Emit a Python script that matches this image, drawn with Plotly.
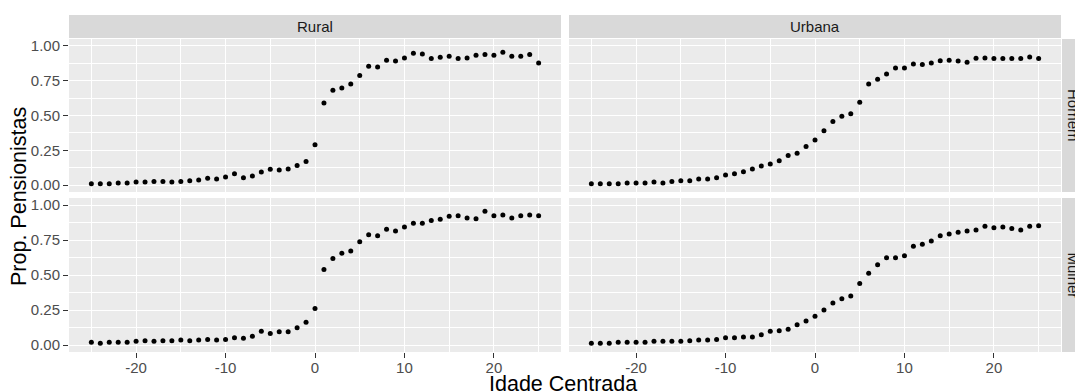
import plotly.graph_objects as go

idade = list(range(-25, 26))

rural_homem = [0.010, 0.010, 0.010, 0.014, 0.014, 0.022, 0.022, 0.026, 0.026, 0.022,
               0.026, 0.031, 0.036, 0.048, 0.043, 0.058, 0.082, 0.053, 0.065, 0.094,
               0.113, 0.108, 0.115, 0.141, 0.170, 0.290, 0.590, 0.681, 0.698, 0.727,
               0.787, 0.854, 0.849, 0.897, 0.892, 0.914, 0.947, 0.942, 0.909, 0.918,
               0.926, 0.909, 0.914, 0.933, 0.938, 0.933, 0.954, 0.926, 0.926, 0.938,
               0.878]

urbana_homem = [0.010, 0.010, 0.010, 0.010, 0.014, 0.014, 0.014, 0.022, 0.014, 0.026,
                0.031, 0.031, 0.043, 0.043, 0.053, 0.072, 0.082, 0.096, 0.115, 0.137,
                0.151, 0.175, 0.213, 0.228, 0.278, 0.324, 0.391, 0.456, 0.494, 0.513,
                0.595, 0.727, 0.760, 0.799, 0.842, 0.842, 0.871, 0.866, 0.878, 0.894,
                0.897, 0.892, 0.882, 0.911, 0.914, 0.909, 0.909, 0.909, 0.909, 0.921,
                0.909]

rural_mulher = [0.019, 0.012, 0.019, 0.019, 0.019, 0.026, 0.031, 0.026, 0.031, 0.031,
                0.036, 0.031, 0.036, 0.040, 0.036, 0.040, 0.052, 0.048, 0.062, 0.098,
                0.083, 0.095, 0.095, 0.124, 0.162, 0.260, 0.540, 0.617, 0.655, 0.671,
                0.738, 0.788, 0.781, 0.826, 0.814, 0.843, 0.869, 0.869, 0.890, 0.898,
                0.919, 0.924, 0.907, 0.902, 0.955, 0.924, 0.929, 0.907, 0.924, 0.929,
                0.924]

urbana_mulher = [0.012, 0.012, 0.012, 0.019, 0.019, 0.019, 0.019, 0.026, 0.026, 0.026,
                 0.026, 0.031, 0.036, 0.036, 0.040, 0.052, 0.052, 0.057, 0.057, 0.074,
                 0.098, 0.102, 0.112, 0.145, 0.171, 0.205, 0.250, 0.300, 0.331, 0.350,
                 0.440, 0.512, 0.574, 0.624, 0.624, 0.638, 0.705, 0.719, 0.743, 0.781,
                 0.793, 0.805, 0.814, 0.821, 0.848, 0.838, 0.843, 0.833, 0.821, 0.848,
                 0.852]

col_labels = ["Rural", "Urbana"]
row_labels = ["Homem", "Mulher"]
x_ticks = [-20, -10, 0, 10, 20]
y_ticks = [0.0, 0.25, 0.5, 0.75, 1.0]
y_ticktext = ["0.00", "0.25", "0.50", "0.75", "1.00"]

W, H = 1075, 392
ML, MR, MT, MB = 69, 14, 15, 40
PW = W - ML - MR
PH = H - MT - MB

def px_x(p):
    return (p - ML) / PW

def px_y(p):
    return (H - MB - p) / PH

x_dom = [[0, px_x(561)], [px_x(569), 1]]
y_dom = [[px_y(192), px_y(39)], [0, px_y(198)]]

FONT = "Liberation Sans, Arial, sans-serif"
fig = go.Figure()

panels = [
    (rural_homem, 0, 0),
    (urbana_homem, 0, 1),
    (rural_mulher, 1, 0),
    (urbana_mulher, 1, 1),
]

for i, (vals, r, c) in enumerate(panels):
    n = i + 1
    xa = "x" if n == 1 else f"x{n}"
    ya = "y" if n == 1 else f"y{n}"
    fig.add_trace(go.Scatter(
        x=idade, y=vals, mode="markers", xaxis=xa, yaxis=ya,
        marker=dict(color="black", size=5), showlegend=False,
        hoverinfo="x+y",
    ))
    xkey = "xaxis" if n == 1 else f"xaxis{n}"
    ykey = "yaxis" if n == 1 else f"yaxis{n}"
    show_x = (r == 1)
    show_y = (c == 0)
    fig.update_layout(**{
        xkey: dict(
            domain=x_dom[c], anchor=ya, range=[-27.5, 27.5],
            tickmode="array", tickvals=x_ticks,
            ticktext=[str(v) for v in x_ticks],
            showticklabels=show_x,
            ticks="outside" if show_x else "", ticklen=5, tickwidth=1,
            tickcolor="#333333", ticklabelstandoff=-3,
            tickfont=dict(family=FONT, size=15, color="#4D4D4D"),
            showgrid=True, gridcolor="white", gridwidth=1.1,
            minor=dict(tickvals=[-25, -15, -5, 5, 15, 25], showgrid=True,
                       gridcolor="white", gridwidth=0.5, ticks=""),
            zeroline=False, showline=False, fixedrange=True,
        ),
        ykey: dict(
            domain=y_dom[r], anchor=xa, range=[-0.05, 1.05],
            tickmode="array", tickvals=y_ticks, ticktext=y_ticktext,
            showticklabels=show_y,
            ticks="outside" if show_y else "", ticklen=5, tickwidth=1,
            tickcolor="#333333",
            tickfont=dict(family=FONT, size=15, color="#4D4D4D"),
            showgrid=True, gridcolor="white", gridwidth=1.1,
            minor=dict(tickvals=[0.125, 0.375, 0.625, 0.875], showgrid=True,
                       gridcolor="white", gridwidth=0.5, ticks=""),
            zeroline=False, showline=False, fixedrange=True,
        ),
    })

shapes = []
annotations = []
# top strips
for c, lab in enumerate(col_labels):
    shapes.append(dict(type="rect", xref="paper", yref="paper",
                       x0=x_dom[c][0], x1=x_dom[c][1],
                       y0=px_y(38), y1=px_y(15),
                       fillcolor="#D9D9D9", line=dict(width=0), layer="below"))
    annotations.append(dict(text=lab, xref="paper", yref="paper",
                            x=(x_dom[c][0] + x_dom[c][1]) / 2,
                            y=(px_y(38) + px_y(15)) / 2,
                            showarrow=False, xanchor="center", yanchor="middle",
                            font=dict(family=FONT, size=15, color="#1A1A1A")))
# right strips
for r, lab in enumerate(row_labels):
    shapes.append(dict(type="rect", xref="paper", yref="paper",
                       x0=px_x(1062), x1=px_x(1090),
                       y0=y_dom[r][0], y1=y_dom[r][1],
                       fillcolor="#D9D9D9", line=dict(width=0), layer="below"))
    annotations.append(dict(text=lab, xref="paper", yref="paper",
                            x=px_x(1073.5), y=(y_dom[r][0] + y_dom[r][1]) / 2,
                            showarrow=False, xanchor="center", yanchor="middle",
                            textangle=90,
                            font=dict(family=FONT, size=15, color="#1A1A1A")))

# axis titles
annotations.append(dict(text="Idade Centrada", xref="paper", yref="paper",
                        x=px_x(563), y=px_y(384), showarrow=False,
                        xanchor="center", yanchor="middle",
                        font=dict(family=FONT, size=21.5, color="black")))
annotations.append(dict(text="Prop. Pensionistas", xref="paper", yref="paper",
                        x=px_x(19), y=px_y(197), showarrow=False,
                        xanchor="center", yanchor="middle", textangle=-90,
                        font=dict(family=FONT, size=21.5, color="black")))

fig.update_layout(
    width=W, height=H,
    margin=dict(l=ML, r=MR, t=MT, b=MB, pad=0),
    paper_bgcolor="white", plot_bgcolor="#EBEBEB",
    shapes=shapes, annotations=annotations,
    showlegend=False,
)

fig.write_html("out.html", config={"displayModeBar": False},
               post_script="document.body.style.margin='0';document.body.style.overflow='hidden';")
